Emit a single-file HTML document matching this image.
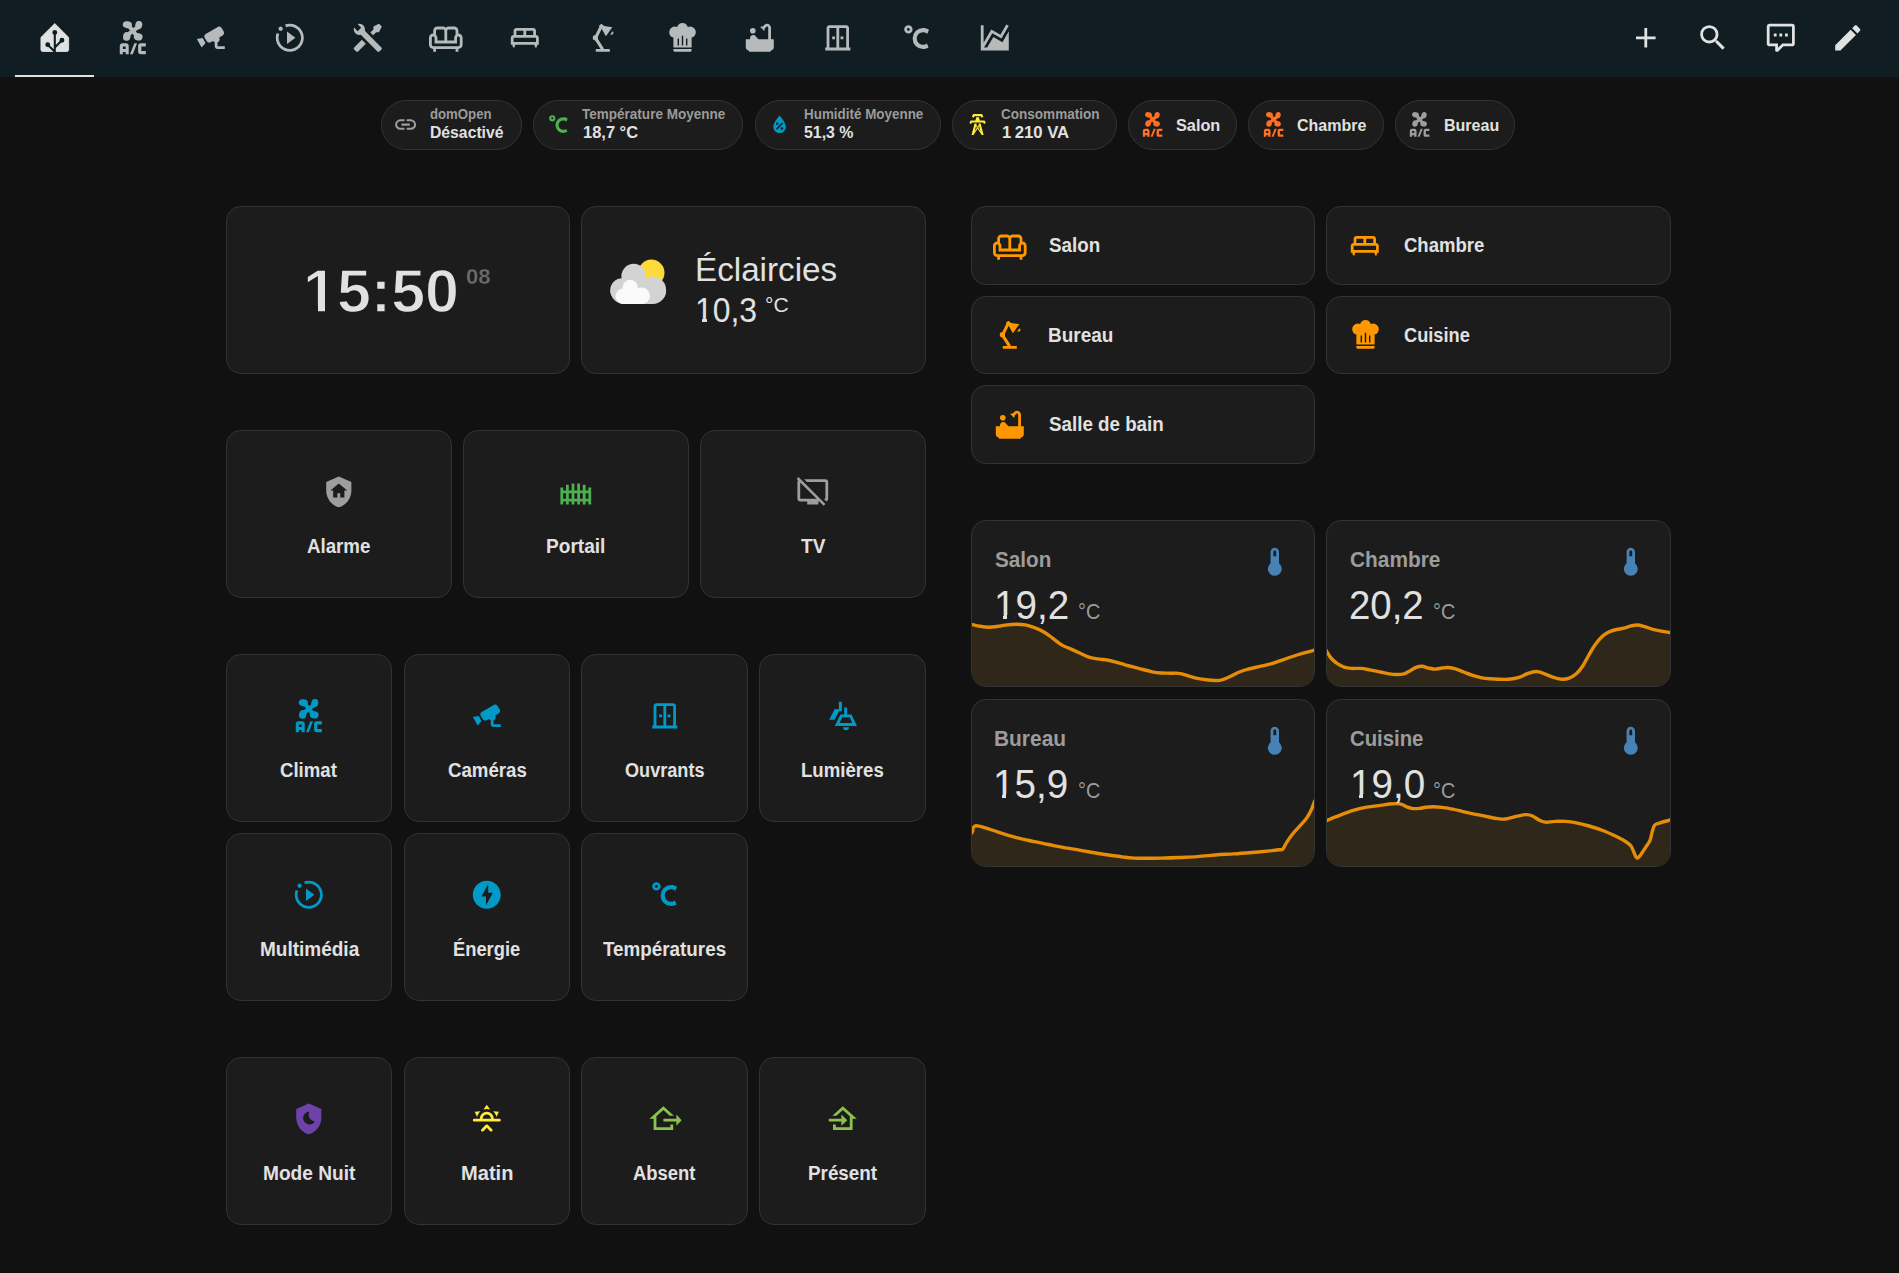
<!DOCTYPE html>
<html lang="fr"><head><meta charset="utf-8"><title>Home Assistant</title><style>
html,body{margin:0;padding:0;background:#111111;}
body{width:1899px;height:1273px;position:relative;overflow:hidden;font-family:"Liberation Sans",sans-serif;}
.hdr{position:absolute;left:0;top:0;width:1899px;height:77px;background:#101e24;}
.tabline{position:absolute;left:15px;top:75px;width:79px;height:2px;background:#e1e1e1;}
.ic{position:absolute;display:block;overflow:visible;}
.card{position:absolute;box-sizing:border-box;background:#1c1c1c;border:1px solid #333333;overflow:hidden;}
.mk{position:absolute;background:#1c1c1c;}
.t{position:absolute;white-space:pre;line-height:1;transform-origin:0 0;display:block;}
</style></head><body>
<div class="hdr"></div>
<div class="tabline"></div>
<svg class="ic" style="left:38.40px;top:21.00px;width:33.60px;height:33.60px;color:#e1e1e1" viewBox="0 0 24 24" fill="currentColor"><path d="M12 1.85L21.9 11.7V20.5A1.3 1.3 0 0 1 20.6 21.8H3.4A1.3 1.3 0 0 1 2.1 20.5V11.7Z" stroke="currentColor" stroke-width="0.6" stroke-linejoin="round"/><g stroke="#101e24" stroke-width="1.5" fill="#101e24"><path d="M12 22.6V8.2M12 19L17.1 13.8M12 22L6.95 16.9" fill="none"/><circle cx="12" cy="8.2" r="1.0"/><circle cx="17.1" cy="13.8" r="1.0"/><circle cx="6.95" cy="16.9" r="1.0"/></g></svg>
<svg class="ic" style="left:115.80px;top:21.00px;width:33.60px;height:33.60px;color:#e1e1e1;opacity:.8" viewBox="0 0 24 24" fill="currentColor"><g>
<ellipse cx="8.1" cy="2.65" rx="3.3" ry="2.5" transform="rotate(8 8.1 2.65)"/><ellipse cx="16.25" cy="2.95" rx="2.5" ry="2.95" transform="rotate(12 16.25 2.95)"/>
<ellipse cx="15.85" cy="11.3" rx="3.15" ry="2.6" transform="rotate(8 15.85 11.3)"/><ellipse cx="7.7" cy="11.05" rx="2.65" ry="3.1" transform="rotate(12 7.7 11.05)"/>
<path d="M9.3 3.6L14.8 10.5M15.6 4.4L8.5 9.7" stroke="currentColor" stroke-width="3" stroke-linecap="round" fill="none"/>
<path d="M2.7 23.7V18A2.1 2.1 0 0 1 4.8 15.9H7A2.1 2.1 0 0 1 9.1 18V23.7H6.9V22.2H4.9V23.7ZM4.9 20H6.9V18.2H4.9Z"/>
<path d="M13.1 15.9H15L12 23.7H10Z"/>
<path d="M21.3 15.9V18.2H18.1V21.5H21.3V23.7H17.7A1.9 1.9 0 0 1 15.8 21.8V17.8A1.9 1.9 0 0 1 17.7 15.9Z"/>
</g></svg>
<svg class="ic" style="left:194.20px;top:21.00px;width:33.60px;height:33.60px;color:#e1e1e1;opacity:.8" viewBox="0 0 24 24" fill="currentColor"><path d="M18.15,3.94C17.77,3.91 17.37,4 17,4.2L8.35,9.2C7.39,9.76 7.07,11 7.62,11.94L9.12,14.53C9.67,15.5 10.89,15.82 11.85,15.27L13.65,14.23C13.92,14.69 14.32,15.06 14.81,15.27V18.04C14.81,19.13 15.7,20 16.81,20H22V18.04H16.81V15.27C17.72,14.87 18.31,13.97 18.31,13C18.31,12.54 18.19,12.11 17.97,11.73L20.5,10.27C21.47,9.71 21.8,8.5 21.24,7.53L19.74,4.94C19.4,4.34 18.79,4 18.15,3.94M6.22,12.17L2,12.87L2.75,14.17L4.75,17.63L5.5,18.93L8.22,15.63L6.22,12.17Z"/></svg>
<svg class="ic" style="left:272.60px;top:21.00px;width:33.60px;height:33.60px;color:#e1e1e1;opacity:.8" viewBox="0 0 24 24" fill="currentColor"><path d="M10 16.5L16 12L10 7.5M22 12C22 6.46 17.54 2 12 2C10.83 2 9.7 2.19 8.62 2.56L9.32 4.5C10.17 4.16 11.06 3.97 12 3.97C16.41 3.97 20.03 7.59 20.03 12C20.03 16.41 16.41 20.03 12 20.03C7.59 20.03 3.97 16.41 3.97 12C3.97 11.06 4.16 10.12 4.5 9.28L2.56 8.62C2.19 9.7 2 10.83 2 12C2 17.54 6.46 22 12 22C17.54 22 22 17.54 22 12M5.47 3.97C6.32 3.97 7 4.68 7 5.47C7 6.32 6.32 7 5.47 7C4.68 7 3.97 6.32 3.97 5.47C3.97 4.68 4.68 3.97 5.47 3.97Z"/></svg>
<svg class="ic" style="left:351.00px;top:21.00px;width:33.60px;height:33.60px;color:#e1e1e1;opacity:.8" viewBox="0 0 24 24" fill="currentColor"><path d="M21.71 20.29L20.29 21.71A1 1 0 0 1 18.88 21.71L7 9.85A3.81 3.81 0 0 1 6 10A4 4 0 0 1 2.22 4.7L4.76 7.24L5.29 6.71L6.71 5.29L7.24 4.76L4.7 2.22A4 4 0 0 1 10 6A3.81 3.81 0 0 1 9.85 7L21.71 18.88A1 1 0 0 1 21.71 20.29M2.29 18.88A1 1 0 0 0 2.29 20.29L3.71 21.71A1 1 0 0 0 5.12 21.71L10.59 16.25L7.76 13.42M20 2L16 4V6L13.83 8.17L15.83 10.17L18 8H20L22 4Z"/></svg>
<svg class="ic" style="left:429.40px;top:21.00px;width:33.60px;height:33.60px;color:#e1e1e1;opacity:.8" viewBox="0 0 24 24" fill="currentColor"><path d="M21 9V7C21 5.35 19.65 4 18 4H14C13.23 4 12.53 4.3 12 4.78C11.47 4.3 10.77 4 10 4H6C4.35 4 3 5.35 3 7V9C1.35 9 0 10.35 0 12V17C0 18.65 1.35 20 3 20V22H5V20H19V22H21V20C22.65 20 24 18.65 24 17V12C24 10.35 22.65 9 21 9M14 6H18C18.55 6 19 6.45 19 7V9.78C18.39 10.33 18 11.12 18 12V14H13V7C13 6.45 13.45 6 14 6M5 7C5 6.45 5.45 6 6 6H10C10.55 6 11 6.45 11 7V14H6V12C6 11.12 5.61 10.33 5 9.78V7M22 17C22 17.55 21.55 18 21 18H3C2.45 18 2 17.55 2 17V12C2 11.45 2.45 11 3 11S4 11.45 4 12V16H20V12C20 11.45 20.45 11 21 11S22 11.45 22 12V17Z"/></svg>
<svg class="ic" style="left:507.80px;top:21.00px;width:33.60px;height:33.60px;color:#e1e1e1;opacity:.8" viewBox="0 0 24 24" fill="currentColor"><path d="M2 12V17H3L3.6 19H4.6L5.2 17H18.8L19.4 19H20.4L21 17H22V12C22 10.9 21.1 10 20 10V7C20 5.9 19.1 5 18 5H6C4.9 5 4 5.9 4 7V10C2.9 10 2 10.9 2 12M13 7H18V10H13V7M6 7H11V10H6V7M4 12H20V15H4V12Z"/></svg>
<svg class="ic" style="left:586.20px;top:21.00px;width:33.60px;height:33.60px;color:#e1e1e1;opacity:.8" viewBox="0 0 24 24" fill="currentColor"><g><path d="M11.9 20.3L6.8 12.2L10.6 4.4" stroke="currentColor" stroke-width="2.2" stroke-linejoin="round" fill="none"/>
<circle cx="6.7" cy="11.9" r="1.85"/>
<path d="M7 20H17V22H7ZM9.1 3.6L10.95 2L13 3.5L18.8 4.4L14.2 10.9L11.1 5.4ZM19.13 7.4L17.27 9.46C17.89 9.97 18.8 9.88 19.31 9.27C19.76 8.72 19.68 7.91 19.13 7.4Z"/></g></svg>
<svg class="ic" style="left:664.60px;top:21.00px;width:33.60px;height:33.60px;color:#e1e1e1;opacity:.8" viewBox="0 0 24 24" fill="currentColor"><path d="M12.5,1.5C10.73,1.5 9.17,2.67 8.67,4.37C8.14,4.13 7.58,4 7,4A4,4 0 0,0 3,8C3,9.82 4.24,11.41 6,11.87V19H19V11.87C20.76,11.41 22,9.82 22,8A4,4 0 0,0 18,4C17.42,4 16.86,4.13 16.33,4.37C15.83,2.67 14.27,1.5 12.5,1.5M12,10.5H13V17.5H12V10.5M9,12.5H10V17.5H9V12.5M15,12.5H16V17.5H15V12.5M6,20V21A1,1 0 0,0 7,22H18A1,1 0 0,0 19,21V20H6Z"/></svg>
<svg class="ic" style="left:743.00px;top:21.00px;width:33.60px;height:33.60px;color:#e1e1e1;opacity:.8" viewBox="0 0 24 24" fill="currentColor"><path d="M5 7A2 2 0 1 0 9 7A2 2 0 1 0 5 7M20 13V4.83C20 3.27 18.73 2 17.17 2C16.42 2 15.7 2.3 15.17 2.83L13.92 4.08C13.76 4.03 13.59 4 13.41 4C13.01 4 12.64 4.12 12.33 4.32L15.09 7.08C15.29 6.77 15.41 6.4 15.41 6C15.41 5.82 15.38 5.66 15.34 5.49L16.59 4.24C16.74 4.09 16.95 4 17.17 4C17.63 4 18 4.37 18 4.83V13H11.15C10.85 12.79 10.58 12.55 10.33 12.28L8.93 10.73C8.74 10.52 8.5 10.35 8.24 10.23C7.93 10.08 7.59 10 7.24 10C6 10.01 5 11.01 5 12.25V13H2V19C2 20.1 2.9 21 4 21C4 21.55 4.45 22 5 22H19C19.55 22 20 21.55 20 21C21.1 21 22 20.1 22 19V13H20Z"/></svg>
<svg class="ic" style="left:821.40px;top:21.00px;width:33.60px;height:33.60px;color:#e1e1e1;opacity:.8" viewBox="0 0 24 24" fill="currentColor"><path d="M10 13H8V11H10V13M16 11H14V13H16V11M21 19V21H3V19H4V5C4 3.9 4.9 3 6 3H18C19.1 3 20 3.9 20 5V19H21M11 5H6V19H11V5M18 5H13V19H18V5Z"/></svg>
<svg class="ic" style="left:899.80px;top:21.00px;width:33.60px;height:33.60px;color:#e1e1e1;opacity:.8" viewBox="0 0 24 24" fill="currentColor"><path d="M16.5,5C18.05,5 19.5,5.47 20.69,6.28L19.53,9.17C18.73,8.44 17.67,8 16.5,8C14,8 12,10 12,12.5C12,15 14,17 16.5,17C17.53,17 18.47,16.66 19.23,16.08L20.37,18.93C19.24,19.61 17.92,20 16.5,20A7.5,7.5 0 0,1 9,12.5A7.5,7.5 0 0,1 16.5,5M6,3A3,3 0 0,1 9,6A3,3 0 0,1 6,9A3,3 0 0,1 3,6A3,3 0 0,1 6,3M6,5A1,1 0 0,0 5,6A1,1 0 0,0 6,7A1,1 0 0,0 7,6A1,1 0 0,0 6,5Z"/></svg>
<svg class="ic" style="left:978.20px;top:21.00px;width:33.60px;height:33.60px;color:#e1e1e1;opacity:.8" viewBox="0 0 24 24" fill="currentColor"><path d="M17.45,15.18L22,7.31V19L22,21H2V3H4V15.54L9.5,6L16,9.78L20.24,2.45L21.97,3.45L16.74,12.5L10.23,8.75L4.31,19H6.57L10.96,11.44L17.45,15.18Z"/></svg>
<svg class="ic" style="left:1628.90px;top:21.00px;width:33.60px;height:33.60px;color:#e1e1e1" viewBox="0 0 24 24" fill="currentColor"><path d="M19,13H13V19H11V13H5V11H11V5H13V11H19V13Z"/></svg>
<svg class="ic" style="left:1696.10px;top:21.00px;width:33.60px;height:33.60px;color:#e1e1e1" viewBox="0 0 24 24" fill="currentColor"><path d="M9.5,3A6.5,6.5 0 0,1 16,9.5C16,11.11 15.41,12.59 14.44,13.73L14.71,14H15.5L20.5,19L19,20.5L14,15.5V14.71L13.73,14.44C12.59,15.41 11.11,16 9.5,16A6.5,6.5 0 0,1 3,9.5A6.5,6.5 0 0,1 9.5,3M9.5,5C7,5 5,7 5,9.5C5,12 7,14 9.5,14C12,14 14,12 14,9.5C14,7 12,5 9.5,5Z"/></svg>
<svg class="ic" style="left:1764.40px;top:21.00px;width:33.60px;height:33.60px;color:#e1e1e1" viewBox="0 0 24 24" fill="currentColor"><path d="M9,22A1,1 0 0,1 8,21V18H4A2,2 0 0,1 2,16V4C2,2.89 2.9,2 4,2H20A2,2 0 0,1 22,4V16A2,2 0 0,1 20,18H13.9L10.2,21.71C10,21.9 9.75,22 9.5,22V22H9M10,16V19.08L13.08,16H20V4H4V16H10M17,11H15V9H17V11M13,11H11V9H13V11M9,11H7V9H9V11Z"/></svg>
<svg class="ic" style="left:1830.50px;top:21.00px;width:33.60px;height:33.60px;color:#e1e1e1" viewBox="0 0 24 24" fill="currentColor"><path d="M20.71,7.04C21.1,6.65 21.1,6 20.71,5.63L18.37,3.29C18,2.9 17.35,2.9 16.96,3.29L15.12,5.12L18.87,8.87M3,17.25V21H6.75L17.81,9.93L14.06,6.18L3,17.25Z"/></svg>
<div class="card chip" style="left:381px;top:100px;width:141px;height:50px;border-radius:25px"></div>
<svg class="ic" style="left:393.20px;top:111.90px;width:25.20px;height:25.20px;color:#9e9e9e" viewBox="0 0 24 24" fill="currentColor"><path d="M3.9,12C3.9,10.29 5.29,8.9 7,8.9H11V7H7A5,5 0 0,0 2,12A5,5 0 0,0 7,17H11V15.1H7C5.29,15.1 3.9,13.71 3.9,12M8,13H16V11H8V13M17,7H13V8.9H17C18.71,8.9 20.1,10.29 20.1,12C20.1,13.71 18.71,15.1 17,15.1H13V17H17A5,5 0 0,0 22,12A5,5 0 0,0 17,7Z"/></svg>
<div class="card chip" style="left:533px;top:100px;width:210px;height:50px;border-radius:25px"></div>
<svg class="ic" style="left:546.20px;top:111.90px;width:25.20px;height:25.20px;color:#4caf50" viewBox="0 0 24 24" fill="currentColor"><path d="M16.5,5C18.05,5 19.5,5.47 20.69,6.28L19.53,9.17C18.73,8.44 17.67,8 16.5,8C14,8 12,10 12,12.5C12,15 14,17 16.5,17C17.53,17 18.47,16.66 19.23,16.08L20.37,18.93C19.24,19.61 17.92,20 16.5,20A7.5,7.5 0 0,1 9,12.5A7.5,7.5 0 0,1 16.5,5M6,3A3,3 0 0,1 9,6A3,3 0 0,1 6,9A3,3 0 0,1 3,6A3,3 0 0,1 6,3M6,5A1,1 0 0,0 5,6A1,1 0 0,0 6,7A1,1 0 0,0 7,6A1,1 0 0,0 6,5Z"/></svg>
<div class="card chip" style="left:755px;top:100px;width:186px;height:50px;border-radius:25px"></div>
<svg class="ic" style="left:767.00px;top:111.90px;width:25.20px;height:25.20px;color:#009ac7" viewBox="0 0 24 24" fill="currentColor"><path d="M12,3.25C12,3.25 6,10 6,14C6,17.32 8.69,20 12,20A6,6 0 0,0 18,14C18,10 12,3.25 12,3.25M14.47,9.97L15.53,11.03L9.53,17.03L8.47,15.97M9.75,10A1.25,1.25 0 0,1 11,11.25A1.25,1.25 0 0,1 9.75,12.5A1.25,1.25 0 0,1 8.5,11.25A1.25,1.25 0 0,1 9.75,10M14.25,14.5A1.25,1.25 0 0,1 15.5,15.75A1.25,1.25 0 0,1 14.25,17A1.25,1.25 0 0,1 13,15.75A1.25,1.25 0 0,1 14.25,14.5Z"/></svg>
<div class="card chip" style="left:952px;top:100px;width:165px;height:50px;border-radius:25px"></div>
<svg class="ic" style="left:965.10px;top:111.90px;width:25.20px;height:25.20px;color:#ffeb3b" viewBox="0 0 24 24" fill="currentColor"><path d="M8.28,5.45L6.5,4.55L7.76,2H16.23L17.5,4.55L15.72,5.44L15,4H9L8.28,5.45M18.62,8H14.09L13.3,5H10.7L9.91,8H5.38L4.1,10.55L5.89,11.44L6.62,10H17.38L18.1,11.45L19.89,10.56L18.62,8M17.77,22H15.7L15.46,21.1L12,15.9L8.53,21.1L8.3,22H6.23L9.12,11H11.19L10.83,12.35L12,14.1L13.16,12.35L12.81,11H14.88L17.77,22M11.4,15L10.5,13.65L9.32,18.13L11.4,15M14.68,18.12L13.5,13.64L12.6,15L14.68,18.12Z"/></svg>
<div class="card chip" style="left:1128px;top:100px;width:109px;height:50px;border-radius:25px"></div>
<svg class="ic" style="left:1140.20px;top:111.90px;width:25.20px;height:25.20px;color:#ff6f22" viewBox="0 0 24 24" fill="currentColor"><g>
<ellipse cx="8.1" cy="2.65" rx="3.3" ry="2.5" transform="rotate(8 8.1 2.65)"/><ellipse cx="16.25" cy="2.95" rx="2.5" ry="2.95" transform="rotate(12 16.25 2.95)"/>
<ellipse cx="15.85" cy="11.3" rx="3.15" ry="2.6" transform="rotate(8 15.85 11.3)"/><ellipse cx="7.7" cy="11.05" rx="2.65" ry="3.1" transform="rotate(12 7.7 11.05)"/>
<path d="M9.3 3.6L14.8 10.5M15.6 4.4L8.5 9.7" stroke="currentColor" stroke-width="3" stroke-linecap="round" fill="none"/>
<path d="M2.7 23.7V18A2.1 2.1 0 0 1 4.8 15.9H7A2.1 2.1 0 0 1 9.1 18V23.7H6.9V22.2H4.9V23.7ZM4.9 20H6.9V18.2H4.9Z"/>
<path d="M13.1 15.9H15L12 23.7H10Z"/>
<path d="M21.3 15.9V18.2H18.1V21.5H21.3V23.7H17.7A1.9 1.9 0 0 1 15.8 21.8V17.8A1.9 1.9 0 0 1 17.7 15.9Z"/>
</g></svg>
<div class="card chip" style="left:1248px;top:100px;width:136px;height:50px;border-radius:25px"></div>
<svg class="ic" style="left:1261.10px;top:111.90px;width:25.20px;height:25.20px;color:#ff6f22" viewBox="0 0 24 24" fill="currentColor"><g>
<ellipse cx="8.1" cy="2.65" rx="3.3" ry="2.5" transform="rotate(8 8.1 2.65)"/><ellipse cx="16.25" cy="2.95" rx="2.5" ry="2.95" transform="rotate(12 16.25 2.95)"/>
<ellipse cx="15.85" cy="11.3" rx="3.15" ry="2.6" transform="rotate(8 15.85 11.3)"/><ellipse cx="7.7" cy="11.05" rx="2.65" ry="3.1" transform="rotate(12 7.7 11.05)"/>
<path d="M9.3 3.6L14.8 10.5M15.6 4.4L8.5 9.7" stroke="currentColor" stroke-width="3" stroke-linecap="round" fill="none"/>
<path d="M2.7 23.7V18A2.1 2.1 0 0 1 4.8 15.9H7A2.1 2.1 0 0 1 9.1 18V23.7H6.9V22.2H4.9V23.7ZM4.9 20H6.9V18.2H4.9Z"/>
<path d="M13.1 15.9H15L12 23.7H10Z"/>
<path d="M21.3 15.9V18.2H18.1V21.5H21.3V23.7H17.7A1.9 1.9 0 0 1 15.8 21.8V17.8A1.9 1.9 0 0 1 17.7 15.9Z"/>
</g></svg>
<div class="card chip" style="left:1395px;top:100px;width:120px;height:50px;border-radius:25px"></div>
<svg class="ic" style="left:1407.20px;top:111.90px;width:25.20px;height:25.20px;color:#9e9e9e" viewBox="0 0 24 24" fill="currentColor"><g>
<ellipse cx="8.1" cy="2.65" rx="3.3" ry="2.5" transform="rotate(8 8.1 2.65)"/><ellipse cx="16.25" cy="2.95" rx="2.5" ry="2.95" transform="rotate(12 16.25 2.95)"/>
<ellipse cx="15.85" cy="11.3" rx="3.15" ry="2.6" transform="rotate(8 15.85 11.3)"/><ellipse cx="7.7" cy="11.05" rx="2.65" ry="3.1" transform="rotate(12 7.7 11.05)"/>
<path d="M9.3 3.6L14.8 10.5M15.6 4.4L8.5 9.7" stroke="currentColor" stroke-width="3" stroke-linecap="round" fill="none"/>
<path d="M2.7 23.7V18A2.1 2.1 0 0 1 4.8 15.9H7A2.1 2.1 0 0 1 9.1 18V23.7H6.9V22.2H4.9V23.7ZM4.9 20H6.9V18.2H4.9Z"/>
<path d="M13.1 15.9H15L12 23.7H10Z"/>
<path d="M21.3 15.9V18.2H18.1V21.5H21.3V23.7H17.7A1.9 1.9 0 0 1 15.8 21.8V17.8A1.9 1.9 0 0 1 17.7 15.9Z"/>
</g></svg>
<div class="card" style="left:226px;top:206px;width:344px;height:168px;border-radius:14.8px"></div>
<div class="card" style="left:581px;top:206px;width:345px;height:168px;border-radius:14.8px"></div>
<svg class="ic" style="left:605px;top:254px;width:70px;height:56px" viewBox="605 254 70 56">
<circle cx="651.4" cy="272.7" r="13.1" fill="#fdd93c"/>
<g fill="#d3d3d3"><circle cx="633.7" cy="276.1" r="12.3"/><circle cx="652.8" cy="289.9" r="13.3"/><circle cx="622.2" cy="290.2" r="11.9"/><path d="M610.3 290A14 14 0 0 0 624.3 304H652.6A13.5 13.5 0 0 0 666.1 290.5L640 280Z"/></g>
<g fill="#fafafa"><circle cx="630.2" cy="287.3" r="7.6"/><circle cx="623.2" cy="296" r="7.6"/><circle cx="641.7" cy="295.6" r="8.1"/><path d="M615.6 296A8 8 0 0 0 623.6 304H641.8A8 8 0 0 0 649.8 296L632 290Z"/></g>
</svg>
<div class="card" style="left:226px;top:430px;width:226px;height:168px;border-radius:14.8px"></div>
<svg class="ic" style="left:322.20px;top:474.90px;width:33.60px;height:33.60px;color:#9e9e9e" viewBox="0 0 24 24" fill="currentColor"><path d="M11,13H13V16H16V11H18L12,6L6,11H8V16H11V13M12,1L21,5V11C21,16.55 17.16,21.74 12,23C6.84,21.74 3,16.55 3,11V5L12,1Z"/></svg>
<div class="card" style="left:463px;top:430px;width:226px;height:168px;border-radius:14.8px"></div>
<svg class="ic" style="left:559.20px;top:474.90px;width:33.60px;height:33.60px;color:#4caf50" viewBox="0 0 24 24" fill="currentColor"><path d="M9 6V11H7V7H5V11H3V9H1V21H3V19H5V21H7V19H9V21H11V19H13V21H15V19H17V21H19V19H21V21H23V9H21V11H19V7H17V11H15V6H13V11H11V6H9M3 13H5V17H3V13M7 13H9V17H7V13M11 13H13V17H11V13M15 13H17V17H15V13M19 13H21V17H19V13Z"/></svg>
<div class="card" style="left:700px;top:430px;width:226px;height:168px;border-radius:14.8px"></div>
<svg class="ic" style="left:796.20px;top:474.90px;width:33.60px;height:33.60px;color:#9e9e9e" viewBox="0 0 24 24" fill="currentColor"><path d="M0.5,2.77L1.78,1.5L21,20.72L19.73,22L16.73,19H16V21H8V19H3C1.89,19 1,18.1 1,17V5C1,4.5 1.17,4.07 1.46,3.73L0.5,2.77M21,17V5H7.82L5.82,3H21A2,2 0 0,1 23,5V17C23,17.85 22.45,18.59 21.7,18.87L19.82,17H21M3,17H14.73L3,5.27V17Z"/></svg>
<div class="card" style="left:226px;top:654px;width:166px;height:168px;border-radius:14.8px"></div>
<svg class="ic" style="left:292.20px;top:698.90px;width:33.60px;height:33.60px;color:#009ac7" viewBox="0 0 24 24" fill="currentColor"><g>
<ellipse cx="8.1" cy="2.65" rx="3.3" ry="2.5" transform="rotate(8 8.1 2.65)"/><ellipse cx="16.25" cy="2.95" rx="2.5" ry="2.95" transform="rotate(12 16.25 2.95)"/>
<ellipse cx="15.85" cy="11.3" rx="3.15" ry="2.6" transform="rotate(8 15.85 11.3)"/><ellipse cx="7.7" cy="11.05" rx="2.65" ry="3.1" transform="rotate(12 7.7 11.05)"/>
<path d="M9.3 3.6L14.8 10.5M15.6 4.4L8.5 9.7" stroke="currentColor" stroke-width="3" stroke-linecap="round" fill="none"/>
<path d="M2.7 23.7V18A2.1 2.1 0 0 1 4.8 15.9H7A2.1 2.1 0 0 1 9.1 18V23.7H6.9V22.2H4.9V23.7ZM4.9 20H6.9V18.2H4.9Z"/>
<path d="M13.1 15.9H15L12 23.7H10Z"/>
<path d="M21.3 15.9V18.2H18.1V21.5H21.3V23.7H17.7A1.9 1.9 0 0 1 15.8 21.8V17.8A1.9 1.9 0 0 1 17.7 15.9Z"/>
</g></svg>
<div class="card" style="left:404px;top:654px;width:166px;height:168px;border-radius:14.8px"></div>
<svg class="ic" style="left:470.20px;top:698.90px;width:33.60px;height:33.60px;color:#009ac7" viewBox="0 0 24 24" fill="currentColor"><path d="M18.15,3.94C17.77,3.91 17.37,4 17,4.2L8.35,9.2C7.39,9.76 7.07,11 7.62,11.94L9.12,14.53C9.67,15.5 10.89,15.82 11.85,15.27L13.65,14.23C13.92,14.69 14.32,15.06 14.81,15.27V18.04C14.81,19.13 15.7,20 16.81,20H22V18.04H16.81V15.27C17.72,14.87 18.31,13.97 18.31,13C18.31,12.54 18.19,12.11 17.97,11.73L20.5,10.27C21.47,9.71 21.8,8.5 21.24,7.53L19.74,4.94C19.4,4.34 18.79,4 18.15,3.94M6.22,12.17L2,12.87L2.75,14.17L4.75,17.63L5.5,18.93L8.22,15.63L6.22,12.17Z"/></svg>
<div class="card" style="left:581px;top:654px;width:167px;height:168px;border-radius:14.8px"></div>
<svg class="ic" style="left:647.70px;top:698.90px;width:33.60px;height:33.60px;color:#009ac7" viewBox="0 0 24 24" fill="currentColor"><path d="M10 13H8V11H10V13M16 11H14V13H16V11M21 19V21H3V19H4V5C4 3.9 4.9 3 6 3H18C19.1 3 20 3.9 20 5V19H21M11 5H6V19H11V5M18 5H13V19H18V5Z"/></svg>
<div class="card" style="left:759px;top:654px;width:167px;height:168px;border-radius:14.8px"></div>
<svg class="ic" style="left:825.70px;top:698.90px;width:33.60px;height:33.60px;color:#009ac7" viewBox="0 0 24 24" fill="currentColor"><path d="M9.2 2H11.3V8.8H9.35L6.1 14.8H2.3L6.1 7.4H9.2ZM13 6H15.1V11H18.2L22.1 19.2H6.3L10.3 11H13ZM11.6 13L9.7 17.1H18.7L17 13ZM12.2 20.2H16.4A2.1 2.1 0 0 1 12.2 20.2Z"/></svg>
<div class="card" style="left:226px;top:833px;width:166px;height:168px;border-radius:14.8px"></div>
<svg class="ic" style="left:292.20px;top:877.90px;width:33.60px;height:33.60px;color:#009ac7" viewBox="0 0 24 24" fill="currentColor"><path d="M10 16.5L16 12L10 7.5M22 12C22 6.46 17.54 2 12 2C10.83 2 9.7 2.19 8.62 2.56L9.32 4.5C10.17 4.16 11.06 3.97 12 3.97C16.41 3.97 20.03 7.59 20.03 12C20.03 16.41 16.41 20.03 12 20.03C7.59 20.03 3.97 16.41 3.97 12C3.97 11.06 4.16 10.12 4.5 9.28L2.56 8.62C2.19 9.7 2 10.83 2 12C2 17.54 6.46 22 12 22C17.54 22 22 17.54 22 12M5.47 3.97C6.32 3.97 7 4.68 7 5.47C7 6.32 6.32 7 5.47 7C4.68 7 3.97 6.32 3.97 5.47C3.97 4.68 4.68 3.97 5.47 3.97Z"/></svg>
<div class="card" style="left:404px;top:833px;width:166px;height:168px;border-radius:14.8px"></div>
<svg class="ic" style="left:470.20px;top:877.90px;width:33.60px;height:33.60px;color:#009ac7" viewBox="0 0 24 24" fill="currentColor"><path d="M12 2C6.5 2 2 6.5 2 12S6.5 22 12 22 22 17.5 22 12 17.5 2 12 2M13 4.3V10.5H16.3L11.4 19.7V13.2H8.2L13 4.3Z"/></svg>
<div class="card" style="left:581px;top:833px;width:167px;height:168px;border-radius:14.8px"></div>
<svg class="ic" style="left:647.70px;top:877.90px;width:33.60px;height:33.60px;color:#009ac7" viewBox="0 0 24 24" fill="currentColor"><path d="M16.5,5C18.05,5 19.5,5.47 20.69,6.28L19.53,9.17C18.73,8.44 17.67,8 16.5,8C14,8 12,10 12,12.5C12,15 14,17 16.5,17C17.53,17 18.47,16.66 19.23,16.08L20.37,18.93C19.24,19.61 17.92,20 16.5,20A7.5,7.5 0 0,1 9,12.5A7.5,7.5 0 0,1 16.5,5M6,3A3,3 0 0,1 9,6A3,3 0 0,1 6,9A3,3 0 0,1 3,6A3,3 0 0,1 6,3M6,5A1,1 0 0,0 5,6A1,1 0 0,0 6,7A1,1 0 0,0 7,6A1,1 0 0,0 6,5Z"/></svg>
<div class="card" style="left:226px;top:1057px;width:166px;height:168px;border-radius:14.8px"></div>
<svg class="ic" style="left:292.20px;top:1101.90px;width:33.60px;height:33.60px;color:#6e41ab" viewBox="0 0 24 24" fill="currentColor"><path d="M12 1L3 5V11C3 16.55 6.84 21.74 12 23C17.16 21.74 21 16.55 21 11V5L12 1M15.97 14.41C14.13 16.58 10.76 16.5 9 14.34C6.82 11.62 8.36 7.62 11.7 7C12.04 6.95 12.33 7.28 12.21 7.61C11.75 8.84 11.82 10.25 12.53 11.47C13.24 12.69 14.42 13.46 15.71 13.67C16.05 13.72 16.2 14.14 15.97 14.41Z"/></svg>
<div class="card" style="left:404px;top:1057px;width:166px;height:168px;border-radius:14.8px"></div>
<svg class="ic" style="left:470.20px;top:1101.90px;width:33.60px;height:33.60px;color:#ffeb3b" viewBox="0 0 24 24" fill="currentColor"><path d="M3,12H7A5,5 0 0,1 12,7A5,5 0 0,1 17,12H21A1,1 0 0,1 22,13A1,1 0 0,1 21,14H3A1,1 0 0,1 2,13A1,1 0 0,1 3,12M15,12A3,3 0 0,0 12,9A3,3 0 0,0 9,12H15M12,2L14.39,5.42C13.65,5.15 12.84,5 12,5C11.16,5 10.35,5.15 9.61,5.42L12,2M3.34,7L7.5,6.65C6.9,7.16 6.36,7.78 5.94,8.5C5.5,9.24 5.25,10 5.11,10.79L3.34,7M20.65,7L18.88,10.79C18.74,10 18.47,9.23 18.05,8.5C17.63,7.78 17.1,7.15 16.5,6.64L20.65,7M12.71,16.3L15.82,19.41C16.21,19.8 16.21,20.43 15.82,20.82C15.43,21.21 14.8,21.21 14.41,20.82L12,18.41L9.59,20.82C9.2,21.21 8.57,21.21 8.18,20.82C7.79,20.43 7.79,19.8 8.18,19.41L11.29,16.3C11.5,16.1 11.74,16 12,16C12.26,16 12.5,16.1 12.71,16.3Z"/></svg>
<div class="card" style="left:581px;top:1057px;width:167px;height:168px;border-radius:14.8px"></div>
<svg class="ic" style="left:647.70px;top:1101.90px;width:33.60px;height:33.60px;color:#8bc34a" viewBox="0 0 24 24" fill="currentColor"><path d="M11 3L1 12H4V20H18V16H16V18H6V10.2L11 5.7L15.5 9.75H18.5ZM24 13L20.3 9V12H11V14H20.3V17Z"/></svg>
<div class="card" style="left:759px;top:1057px;width:167px;height:168px;border-radius:14.8px"></div>
<svg class="ic" style="left:825.70px;top:1101.90px;width:33.60px;height:33.60px;color:#8bc34a" viewBox="0 0 24 24" fill="currentColor"><path d="M12 3L22 12H19V20H5V16H7V18H17V10.2L12 5.7L7.5 9.75H4.5ZM15.2 13L11 9V12H2V14H11V17Z"/></svg>
<div class="card" style="left:971px;top:206px;width:344px;height:79px;border-radius:14.8px"></div>
<svg class="ic" style="left:993.00px;top:228.90px;width:33.60px;height:33.60px;color:#ff9800" viewBox="0 0 24 24" fill="currentColor"><path d="M21 9V7C21 5.35 19.65 4 18 4H14C13.23 4 12.53 4.3 12 4.78C11.47 4.3 10.77 4 10 4H6C4.35 4 3 5.35 3 7V9C1.35 9 0 10.35 0 12V17C0 18.65 1.35 20 3 20V22H5V20H19V22H21V20C22.65 20 24 18.65 24 17V12C24 10.35 22.65 9 21 9M14 6H18C18.55 6 19 6.45 19 7V9.78C18.39 10.33 18 11.12 18 12V14H13V7C13 6.45 13.45 6 14 6M5 7C5 6.45 5.45 6 6 6H10C10.55 6 11 6.45 11 7V14H6V12C6 11.12 5.61 10.33 5 9.78V7M22 17C22 17.55 21.55 18 21 18H3C2.45 18 2 17.55 2 17V12C2 11.45 2.45 11 3 11S4 11.45 4 12V16H20V12C20 11.45 20.45 11 21 11S22 11.45 22 12V17Z"/></svg>
<div class="card" style="left:1326px;top:206px;width:345px;height:79px;border-radius:14.8px"></div>
<svg class="ic" style="left:1348.00px;top:228.90px;width:33.60px;height:33.60px;color:#ff9800" viewBox="0 0 24 24" fill="currentColor"><path d="M2 12V17H3L3.6 19H4.6L5.2 17H18.8L19.4 19H20.4L21 17H22V12C22 10.9 21.1 10 20 10V7C20 5.9 19.1 5 18 5H6C4.9 5 4 5.9 4 7V10C2.9 10 2 10.9 2 12M13 7H18V10H13V7M6 7H11V10H6V7M4 12H20V15H4V12Z"/></svg>
<div class="card" style="left:971px;top:296px;width:344px;height:78px;border-radius:14.8px"></div>
<svg class="ic" style="left:993.00px;top:318.40px;width:33.60px;height:33.60px;color:#ff9800" viewBox="0 0 24 24" fill="currentColor"><g><path d="M11.9 20.3L6.8 12.2L10.6 4.4" stroke="currentColor" stroke-width="2.2" stroke-linejoin="round" fill="none"/>
<circle cx="6.7" cy="11.9" r="1.85"/>
<path d="M7 20H17V22H7ZM9.1 3.6L10.95 2L13 3.5L18.8 4.4L14.2 10.9L11.1 5.4ZM19.13 7.4L17.27 9.46C17.89 9.97 18.8 9.88 19.31 9.27C19.76 8.72 19.68 7.91 19.13 7.4Z"/></g></svg>
<div class="card" style="left:1326px;top:296px;width:345px;height:78px;border-radius:14.8px"></div>
<svg class="ic" style="left:1348.00px;top:318.40px;width:33.60px;height:33.60px;color:#ff9800" viewBox="0 0 24 24" fill="currentColor"><path d="M12.5,1.5C10.73,1.5 9.17,2.67 8.67,4.37C8.14,4.13 7.58,4 7,4A4,4 0 0,0 3,8C3,9.82 4.24,11.41 6,11.87V19H19V11.87C20.76,11.41 22,9.82 22,8A4,4 0 0,0 18,4C17.42,4 16.86,4.13 16.33,4.37C15.83,2.67 14.27,1.5 12.5,1.5M12,10.5H13V17.5H12V10.5M9,12.5H10V17.5H9V12.5M15,12.5H16V17.5H15V12.5M6,20V21A1,1 0 0,0 7,22H18A1,1 0 0,0 19,21V20H6Z"/></svg>
<div class="card" style="left:971px;top:385px;width:344px;height:79px;border-radius:14.8px"></div>
<svg class="ic" style="left:993.00px;top:407.90px;width:33.60px;height:33.60px;color:#ff9800" viewBox="0 0 24 24" fill="currentColor"><path d="M5 7A2 2 0 1 0 9 7A2 2 0 1 0 5 7M20 13V4.83C20 3.27 18.73 2 17.17 2C16.42 2 15.7 2.3 15.17 2.83L13.92 4.08C13.76 4.03 13.59 4 13.41 4C13.01 4 12.64 4.12 12.33 4.32L15.09 7.08C15.29 6.77 15.41 6.4 15.41 6C15.41 5.82 15.38 5.66 15.34 5.49L16.59 4.24C16.74 4.09 16.95 4 17.17 4C17.63 4 18 4.37 18 4.83V13H11.15C10.85 12.79 10.58 12.55 10.33 12.28L8.93 10.73C8.74 10.52 8.5 10.35 8.24 10.23C7.93 10.08 7.59 10 7.24 10C6 10.01 5 11.01 5 12.25V13H2V19C2 20.1 2.9 21 4 21C4 21.55 4.45 22 5 22H19C19.55 22 20 21.55 20 21C21.1 21 22 20.1 22 19V13H20Z"/></svg>
<div class="card gcard" style="left:971px;top:520px;width:344px;height:167px;border-radius:14.8px"><svg width="344" height="167" viewBox="0 0 344 167" style="position:absolute;left:-1px;top:-1px"><path d="M0.0 104.3C1.5 104.6 6.1 105.8 9.1 106.3C12.1 106.8 15.1 107.2 18.1 107.2C21.1 107.2 24.2 106.7 27.2 106.3C30.2 105.9 33.2 105.2 36.2 104.9C39.2 104.6 42.3 104.3 45.3 104.3C48.3 104.3 51.3 104.3 54.3 104.9C57.3 105.5 60.4 106.6 63.4 107.7C66.4 108.8 69.5 110.0 72.5 111.7C75.5 113.4 78.5 115.9 81.5 118.1C84.5 120.3 87.6 123.1 90.6 124.9C93.6 126.7 96.6 127.5 99.6 128.9C102.6 130.2 105.7 131.6 108.7 133.0C111.7 134.4 114.8 136.1 117.8 137.1C120.8 138.1 123.8 138.4 126.8 138.9C129.8 139.4 132.9 139.5 135.9 140.0C138.9 140.5 141.9 141.3 144.9 142.1C147.9 142.9 151.0 143.9 154.0 144.8C157.0 145.6 160.0 146.4 163.0 147.2C166.0 148.0 169.0 148.7 172.0 149.5C175.0 150.3 178.1 151.2 181.1 151.8C184.1 152.4 187.1 152.8 190.1 153.0C193.1 153.2 196.2 153.1 199.2 153.2C202.2 153.3 205.2 152.9 208.2 153.4C211.2 153.8 214.3 155.1 217.3 155.9C220.3 156.7 223.3 157.8 226.3 158.4C229.3 159.0 232.4 159.4 235.4 159.7C238.4 160.1 242.1 160.4 244.5 160.5C246.9 160.6 247.7 160.8 249.9 160.2C252.2 159.6 255.1 158.3 258.0 157.0C260.9 155.7 264.1 153.8 267.1 152.5C270.1 151.2 272.4 150.3 276.2 149.3C280.0 148.2 286.0 147.1 289.8 146.2C293.6 145.3 295.8 144.9 298.8 144.1C301.8 143.3 304.9 142.2 307.9 141.2C310.9 140.2 313.9 139.0 316.9 138.0C319.9 137.0 323.0 136.0 326.0 135.0C329.0 134.0 332.0 133.1 335.0 132.3C338.0 131.5 342.5 130.4 344.0 130.0L344 167L0 167Z" fill="#30271b"/><path d="M0.0 104.3C1.5 104.6 6.1 105.8 9.1 106.3C12.1 106.8 15.1 107.2 18.1 107.2C21.1 107.2 24.2 106.7 27.2 106.3C30.2 105.9 33.2 105.2 36.2 104.9C39.2 104.6 42.3 104.3 45.3 104.3C48.3 104.3 51.3 104.3 54.3 104.9C57.3 105.5 60.4 106.6 63.4 107.7C66.4 108.8 69.5 110.0 72.5 111.7C75.5 113.4 78.5 115.9 81.5 118.1C84.5 120.3 87.6 123.1 90.6 124.9C93.6 126.7 96.6 127.5 99.6 128.9C102.6 130.2 105.7 131.6 108.7 133.0C111.7 134.4 114.8 136.1 117.8 137.1C120.8 138.1 123.8 138.4 126.8 138.9C129.8 139.4 132.9 139.5 135.9 140.0C138.9 140.5 141.9 141.3 144.9 142.1C147.9 142.9 151.0 143.9 154.0 144.8C157.0 145.6 160.0 146.4 163.0 147.2C166.0 148.0 169.0 148.7 172.0 149.5C175.0 150.3 178.1 151.2 181.1 151.8C184.1 152.4 187.1 152.8 190.1 153.0C193.1 153.2 196.2 153.1 199.2 153.2C202.2 153.3 205.2 152.9 208.2 153.4C211.2 153.8 214.3 155.1 217.3 155.9C220.3 156.7 223.3 157.8 226.3 158.4C229.3 159.0 232.4 159.4 235.4 159.7C238.4 160.1 242.1 160.4 244.5 160.5C246.9 160.6 247.7 160.8 249.9 160.2C252.2 159.6 255.1 158.3 258.0 157.0C260.9 155.7 264.1 153.8 267.1 152.5C270.1 151.2 272.4 150.3 276.2 149.3C280.0 148.2 286.0 147.1 289.8 146.2C293.6 145.3 295.8 144.9 298.8 144.1C301.8 143.3 304.9 142.2 307.9 141.2C310.9 140.2 313.9 139.0 316.9 138.0C319.9 137.0 323.0 136.0 326.0 135.0C329.0 134.0 332.0 133.1 335.0 132.3C338.0 131.5 342.5 130.4 344.0 130.0" fill="none" stroke="#e58d06" stroke-width="3.4" stroke-linejoin="round" stroke-linecap="butt"/></svg></div>
<svg class="ic" style="left:1257.90px;top:545.10px;width:33.60px;height:33.60px;color:#4682b4" viewBox="0 0 24 24" fill="currentColor"><path d="M15,13V5A3,3 0 0,0 9,5V13A5,5 0 1,0 15,13M12,4A1,1 0 0,1 13,5V8H11V5A1,1 0 0,1 12,4Z"/></svg>
<div class="card gcard" style="left:1326px;top:520px;width:345px;height:167px;border-radius:14.8px"><svg width="345" height="167" viewBox="0 0 345 167" style="position:absolute;left:-1px;top:-1px"><path d="M0.0 130.0C0.2 130.3 0.2 130.7 1.1 132.1C2.0 133.5 3.6 136.5 5.4 138.5C7.2 140.5 9.7 142.5 11.8 143.9C13.9 145.3 15.8 146.4 18.1 147.1C20.4 147.9 22.7 148.2 25.4 148.4C28.1 148.6 31.4 148.2 34.4 148.4C37.4 148.6 40.2 149.2 43.5 149.8C46.8 150.4 51.0 151.3 54.3 152.0C57.6 152.7 60.7 153.5 63.4 153.9C66.1 154.3 68.3 154.5 70.7 154.5C73.1 154.5 75.7 154.5 77.9 153.9C80.2 153.3 82.1 151.8 84.2 150.7C86.3 149.6 88.6 147.9 90.6 147.2C92.6 146.5 94.0 146.2 96.0 146.3C98.0 146.4 100.3 147.5 102.4 148.0C104.5 148.5 106.5 149.1 108.7 149.1C111.0 149.1 113.6 148.3 115.9 148.0C118.2 147.7 120.0 147.3 122.3 147.5C124.6 147.7 126.9 148.1 129.5 148.9C132.1 149.6 134.8 150.9 137.7 152.0C140.6 153.1 143.7 154.4 146.7 155.4C149.7 156.4 152.8 157.2 155.8 157.8C158.8 158.4 162.2 158.6 164.9 158.8C167.6 159.0 169.0 159.1 172.0 159.2C175.0 159.3 179.4 159.5 182.9 159.2C186.4 158.9 189.8 158.4 193.0 157.4C196.2 156.4 199.2 154.3 202.1 153.3C205.0 152.3 207.7 151.5 210.3 151.5C212.9 151.5 214.8 152.3 217.5 153.3C220.2 154.2 223.7 156.2 226.7 157.2C229.8 158.2 233.1 159.1 235.8 159.2C238.5 159.4 240.7 159.0 243.1 158.1C245.5 157.2 248.0 155.8 250.3 153.8C252.6 151.8 254.6 149.2 256.7 146.0C258.8 142.8 261.1 138.0 263.1 134.6C265.1 131.2 266.6 128.3 268.6 125.5C270.6 122.7 272.8 119.9 274.9 117.8C277.0 115.7 279.0 114.1 281.3 112.8C283.6 111.5 285.9 110.8 288.6 110.0C291.3 109.2 295.0 108.9 297.7 108.2C300.4 107.5 302.6 106.4 305.0 105.9C307.4 105.4 309.9 104.8 312.3 105.0C314.7 105.2 317.2 106.2 319.6 106.9C322.0 107.6 324.3 108.6 326.9 109.3C329.5 110.0 332.5 110.6 335.1 111.1C337.7 111.6 340.8 112.0 342.4 112.3C344.1 112.5 344.6 112.6 345.0 112.6L345 167L0 167Z" fill="#30271b"/><path d="M0.0 130.0C0.2 130.3 0.2 130.7 1.1 132.1C2.0 133.5 3.6 136.5 5.4 138.5C7.2 140.5 9.7 142.5 11.8 143.9C13.9 145.3 15.8 146.4 18.1 147.1C20.4 147.9 22.7 148.2 25.4 148.4C28.1 148.6 31.4 148.2 34.4 148.4C37.4 148.6 40.2 149.2 43.5 149.8C46.8 150.4 51.0 151.3 54.3 152.0C57.6 152.7 60.7 153.5 63.4 153.9C66.1 154.3 68.3 154.5 70.7 154.5C73.1 154.5 75.7 154.5 77.9 153.9C80.2 153.3 82.1 151.8 84.2 150.7C86.3 149.6 88.6 147.9 90.6 147.2C92.6 146.5 94.0 146.2 96.0 146.3C98.0 146.4 100.3 147.5 102.4 148.0C104.5 148.5 106.5 149.1 108.7 149.1C111.0 149.1 113.6 148.3 115.9 148.0C118.2 147.7 120.0 147.3 122.3 147.5C124.6 147.7 126.9 148.1 129.5 148.9C132.1 149.6 134.8 150.9 137.7 152.0C140.6 153.1 143.7 154.4 146.7 155.4C149.7 156.4 152.8 157.2 155.8 157.8C158.8 158.4 162.2 158.6 164.9 158.8C167.6 159.0 169.0 159.1 172.0 159.2C175.0 159.3 179.4 159.5 182.9 159.2C186.4 158.9 189.8 158.4 193.0 157.4C196.2 156.4 199.2 154.3 202.1 153.3C205.0 152.3 207.7 151.5 210.3 151.5C212.9 151.5 214.8 152.3 217.5 153.3C220.2 154.2 223.7 156.2 226.7 157.2C229.8 158.2 233.1 159.1 235.8 159.2C238.5 159.4 240.7 159.0 243.1 158.1C245.5 157.2 248.0 155.8 250.3 153.8C252.6 151.8 254.6 149.2 256.7 146.0C258.8 142.8 261.1 138.0 263.1 134.6C265.1 131.2 266.6 128.3 268.6 125.5C270.6 122.7 272.8 119.9 274.9 117.8C277.0 115.7 279.0 114.1 281.3 112.8C283.6 111.5 285.9 110.8 288.6 110.0C291.3 109.2 295.0 108.9 297.7 108.2C300.4 107.5 302.6 106.4 305.0 105.9C307.4 105.4 309.9 104.8 312.3 105.0C314.7 105.2 317.2 106.2 319.6 106.9C322.0 107.6 324.3 108.6 326.9 109.3C329.5 110.0 332.5 110.6 335.1 111.1C337.7 111.6 340.8 112.0 342.4 112.3C344.1 112.5 344.6 112.6 345.0 112.6" fill="none" stroke="#e58d06" stroke-width="3.4" stroke-linejoin="round" stroke-linecap="butt"/></svg></div>
<svg class="ic" style="left:1613.90px;top:545.10px;width:33.60px;height:33.60px;color:#4682b4" viewBox="0 0 24 24" fill="currentColor"><path d="M15,13V5A3,3 0 0,0 9,5V13A5,5 0 1,0 15,13M12,4A1,1 0 0,1 13,5V8H11V5A1,1 0 0,1 12,4Z"/></svg>
<div class="card gcard" style="left:971px;top:699px;width:344px;height:168px;border-radius:14.8px"><svg width="344" height="168" viewBox="0 0 344 168" style="position:absolute;left:-1px;top:-1px"><path d="M0.0 135.0C0.2 134.6 1.0 133.8 1.4 132.7C1.8 131.6 1.6 129.6 2.3 128.6C3.0 127.6 3.5 126.8 5.4 126.8C7.3 126.8 10.0 127.6 13.6 128.6C17.2 129.7 21.9 131.4 27.2 133.1C32.5 134.8 39.3 137.0 45.3 138.6C51.3 140.2 57.4 141.3 63.4 142.6C69.4 143.9 75.5 145.1 81.5 146.3C87.5 147.5 93.5 148.6 99.6 149.7C105.6 150.8 111.7 151.8 117.8 152.8C123.8 153.8 129.9 154.9 135.9 155.8C141.9 156.7 149.5 157.7 154.0 158.3C158.5 158.8 160.0 158.9 163.0 159.1C166.0 159.3 167.5 159.3 172.0 159.3C176.5 159.3 184.1 159.2 190.1 159.1C196.1 159.0 202.2 158.8 208.2 158.5C214.2 158.2 220.2 158.0 226.3 157.6C232.3 157.2 238.5 156.5 244.5 156.0C250.5 155.5 256.6 155.3 262.6 154.9C268.6 154.5 274.7 154.0 280.7 153.5C286.7 153.0 294.3 152.3 298.8 151.9C303.3 151.4 305.7 151.1 307.9 150.8C310.1 150.5 310.7 151.0 311.9 149.9C313.1 148.8 313.6 146.7 315.1 144.4C316.5 142.1 318.5 139.0 320.6 136.3C322.7 133.6 325.4 130.8 327.8 128.1C330.2 125.4 333.0 122.6 335.0 120.0C337.0 117.4 338.3 114.9 339.6 112.3C340.9 109.7 342.0 106.5 342.7 104.6C343.4 102.7 343.8 101.6 344.0 101.0L344 168L0 168Z" fill="#30271b"/><path d="M0.0 135.0C0.2 134.6 1.0 133.8 1.4 132.7C1.8 131.6 1.6 129.6 2.3 128.6C3.0 127.6 3.5 126.8 5.4 126.8C7.3 126.8 10.0 127.6 13.6 128.6C17.2 129.7 21.9 131.4 27.2 133.1C32.5 134.8 39.3 137.0 45.3 138.6C51.3 140.2 57.4 141.3 63.4 142.6C69.4 143.9 75.5 145.1 81.5 146.3C87.5 147.5 93.5 148.6 99.6 149.7C105.6 150.8 111.7 151.8 117.8 152.8C123.8 153.8 129.9 154.9 135.9 155.8C141.9 156.7 149.5 157.7 154.0 158.3C158.5 158.8 160.0 158.9 163.0 159.1C166.0 159.3 167.5 159.3 172.0 159.3C176.5 159.3 184.1 159.2 190.1 159.1C196.1 159.0 202.2 158.8 208.2 158.5C214.2 158.2 220.2 158.0 226.3 157.6C232.3 157.2 238.5 156.5 244.5 156.0C250.5 155.5 256.6 155.3 262.6 154.9C268.6 154.5 274.7 154.0 280.7 153.5C286.7 153.0 294.3 152.3 298.8 151.9C303.3 151.4 305.7 151.1 307.9 150.8C310.1 150.5 310.7 151.0 311.9 149.9C313.1 148.8 313.6 146.7 315.1 144.4C316.5 142.1 318.5 139.0 320.6 136.3C322.7 133.6 325.4 130.8 327.8 128.1C330.2 125.4 333.0 122.6 335.0 120.0C337.0 117.4 338.3 114.9 339.6 112.3C340.9 109.7 342.0 106.5 342.7 104.6C343.4 102.7 343.8 101.6 344.0 101.0" fill="none" stroke="#e58d06" stroke-width="3.4" stroke-linejoin="round" stroke-linecap="butt"/></svg></div>
<svg class="ic" style="left:1257.90px;top:724.10px;width:33.60px;height:33.60px;color:#4682b4" viewBox="0 0 24 24" fill="currentColor"><path d="M15,13V5A3,3 0 0,0 9,5V13A5,5 0 1,0 15,13M12,4A1,1 0 0,1 13,5V8H11V5A1,1 0 0,1 12,4Z"/></svg>
<div class="card gcard" style="left:1326px;top:699px;width:345px;height:168px;border-radius:14.8px"><svg width="345" height="168" viewBox="0 0 345 168" style="position:absolute;left:-1px;top:-1px"><path d="M0.0 121.8C0.2 121.7 -1.2 122.2 1.1 121.3C3.4 120.4 9.2 118.0 13.6 116.4C17.9 114.7 22.7 112.8 27.2 111.4C31.7 110.0 36.3 109.0 40.8 108.2C45.3 107.4 50.5 106.9 54.3 106.4C58.1 105.9 60.7 105.3 63.4 105.0C66.1 104.7 68.6 104.5 70.7 104.6C72.8 104.7 74.3 104.9 76.1 105.5C77.9 106.1 79.7 107.5 81.5 108.2C83.3 108.9 84.9 109.4 87.0 109.6C89.1 109.8 92.1 109.5 94.2 109.3C96.3 109.1 97.5 108.5 99.6 108.2C101.7 108.0 104.2 107.8 106.9 107.8C109.6 107.8 112.6 108.0 115.9 108.4C119.2 108.8 123.5 109.6 126.8 110.2C130.1 110.9 132.9 111.6 135.9 112.3C138.9 113.0 141.9 113.7 144.9 114.4C147.9 115.0 151.0 115.6 154.0 116.2C157.0 116.8 160.0 117.4 163.0 118.0C166.0 118.6 169.3 119.3 172.0 119.6C174.7 119.9 176.3 120.4 179.3 120.0C182.3 119.6 186.7 118.1 190.2 117.4C193.7 116.7 197.5 115.7 200.2 115.6C202.9 115.5 204.3 116.0 206.6 117.0C208.9 118.0 211.6 120.5 213.9 121.5C216.2 122.5 217.9 123.1 220.3 123.3C222.7 123.4 225.3 122.5 228.5 122.4C231.7 122.2 235.8 122.2 239.4 122.4C243.0 122.6 246.3 123.0 250.3 123.8C254.2 124.6 258.7 125.7 263.1 127.0C267.5 128.3 272.2 129.8 276.8 131.5C281.3 133.2 286.6 135.7 290.4 137.5C294.2 139.3 297.1 140.9 299.5 142.5C301.9 144.1 303.6 145.1 305.0 147.0C306.4 148.9 307.2 151.9 308.2 153.9C309.2 155.9 309.9 158.7 310.9 159.1C311.9 159.6 312.6 158.4 314.1 156.6C315.5 154.8 317.9 151.0 319.6 148.4C321.3 145.8 323.0 143.8 324.1 141.1C325.2 138.4 325.6 134.5 326.4 132.0C327.2 129.5 327.4 127.5 328.7 126.1C330.0 124.7 331.9 124.6 334.2 123.8C336.5 123.0 340.6 122.0 342.4 121.5C344.2 121.0 344.6 120.9 345.0 120.8L345 168L0 168Z" fill="#30271b"/><path d="M0.0 121.8C0.2 121.7 -1.2 122.2 1.1 121.3C3.4 120.4 9.2 118.0 13.6 116.4C17.9 114.7 22.7 112.8 27.2 111.4C31.7 110.0 36.3 109.0 40.8 108.2C45.3 107.4 50.5 106.9 54.3 106.4C58.1 105.9 60.7 105.3 63.4 105.0C66.1 104.7 68.6 104.5 70.7 104.6C72.8 104.7 74.3 104.9 76.1 105.5C77.9 106.1 79.7 107.5 81.5 108.2C83.3 108.9 84.9 109.4 87.0 109.6C89.1 109.8 92.1 109.5 94.2 109.3C96.3 109.1 97.5 108.5 99.6 108.2C101.7 108.0 104.2 107.8 106.9 107.8C109.6 107.8 112.6 108.0 115.9 108.4C119.2 108.8 123.5 109.6 126.8 110.2C130.1 110.9 132.9 111.6 135.9 112.3C138.9 113.0 141.9 113.7 144.9 114.4C147.9 115.0 151.0 115.6 154.0 116.2C157.0 116.8 160.0 117.4 163.0 118.0C166.0 118.6 169.3 119.3 172.0 119.6C174.7 119.9 176.3 120.4 179.3 120.0C182.3 119.6 186.7 118.1 190.2 117.4C193.7 116.7 197.5 115.7 200.2 115.6C202.9 115.5 204.3 116.0 206.6 117.0C208.9 118.0 211.6 120.5 213.9 121.5C216.2 122.5 217.9 123.1 220.3 123.3C222.7 123.4 225.3 122.5 228.5 122.4C231.7 122.2 235.8 122.2 239.4 122.4C243.0 122.6 246.3 123.0 250.3 123.8C254.2 124.6 258.7 125.7 263.1 127.0C267.5 128.3 272.2 129.8 276.8 131.5C281.3 133.2 286.6 135.7 290.4 137.5C294.2 139.3 297.1 140.9 299.5 142.5C301.9 144.1 303.6 145.1 305.0 147.0C306.4 148.9 307.2 151.9 308.2 153.9C309.2 155.9 309.9 158.7 310.9 159.1C311.9 159.6 312.6 158.4 314.1 156.6C315.5 154.8 317.9 151.0 319.6 148.4C321.3 145.8 323.0 143.8 324.1 141.1C325.2 138.4 325.6 134.5 326.4 132.0C327.2 129.5 327.4 127.5 328.7 126.1C330.0 124.7 331.9 124.6 334.2 123.8C336.5 123.0 340.6 122.0 342.4 121.5C344.2 121.0 344.6 120.9 345.0 120.8" fill="none" stroke="#e58d06" stroke-width="3.4" stroke-linejoin="round" stroke-linecap="butt"/></svg></div>
<svg class="ic" style="left:1613.90px;top:724.10px;width:33.60px;height:33.60px;color:#4682b4" viewBox="0 0 24 24" fill="currentColor"><path d="M15,13V5A3,3 0 0,0 9,5V13A5,5 0 1,0 15,13M12,4A1,1 0 0,1 13,5V8H11V5A1,1 0 0,1 12,4Z"/></svg>
<span class="t" id="t0" style="left:430.00px;top:106.75px;font-size:14px;font-weight:700;color:#9b9b9b;transform:scaleX(0.9417)">domOpen</span>
<span class="t" id="t1" style="left:430.44px;top:124.58px;font-size:16.8px;font-weight:700;color:#e1e1e1;transform:scaleX(0.9379)">Désactivé</span>
<span class="t" id="t2" style="left:582.00px;top:106.75px;font-size:14px;font-weight:700;color:#9b9b9b;transform:scaleX(0.9660)">Température Moyenne</span>
<span class="t" id="t3" style="left:583.02px;top:124.58px;font-size:16.8px;font-weight:700;color:#e1e1e1;transform:scaleX(0.9812)">18,7 °C</span>
<span class="t" id="t4" style="left:803.50px;top:106.75px;font-size:14px;font-weight:700;color:#9b9b9b;transform:scaleX(0.9585)">Humidité Moyenne</span>
<span class="t" id="t5" style="left:803.50px;top:124.58px;font-size:16.8px;font-weight:700;color:#e1e1e1;transform:scaleX(0.9460)">51,3 %</span>
<span class="t" id="t6" style="left:1001.00px;top:106.75px;font-size:14px;font-weight:700;color:#9b9b9b;transform:scaleX(0.9671)">Consommation</span>
<span class="t" id="t7" style="left:1002.00px;top:124.58px;font-size:16.8px;font-weight:700;color:#e1e1e1;transform:scaleX(0.9955)">1 210 VA</span>
<span class="t" id="t8" style="left:1176.00px;top:117.78px;font-size:16.8px;font-weight:700;color:#e1e1e1;transform:scaleX(0.9683)">Salon</span>
<span class="t" id="t9" style="left:1297.00px;top:117.78px;font-size:16.8px;font-weight:700;color:#e1e1e1;transform:scaleX(0.9530)">Chambre</span>
<span class="t" id="t10" style="left:1444.05px;top:117.78px;font-size:16.8px;font-weight:700;color:#e1e1e1;transform:scaleX(0.9546)">Bureau</span>
<span class="t" id="t11" style="left:302.88px;top:260.32px;font-size:62px;font-weight:700;color:#e1e1e1;transform:scaleX(0.9839);-webkit-text-stroke:1.3px #1c1c1c">15:50</span>
<span class="t" id="t12" style="left:466.00px;top:265.87px;font-size:22.6px;font-weight:700;color:#6b6b6b;transform:scaleX(0.9770);-webkit-text-stroke:0.3px #1c1c1c">08</span>
<span class="t" id="t13" style="left:694.59px;top:253.17px;font-size:33px;font-weight:400;color:#e1e1e1;transform:scaleX(1.0065)">Éclaircies</span>
<span class="t" id="t14" style="left:695.16px;top:292.81px;font-size:34.6px;font-weight:400;color:#e1e1e1;transform:scaleX(0.9225)">10,3</span>
<span class="t" id="t15" style="left:765.26px;top:294.80px;font-size:20.2px;font-weight:400;color:#e1e1e1;transform:scaleX(1.0440)">°C</span>
<span class="t" id="t16" style="left:307.25px;top:537.21px;font-size:19.6px;font-weight:700;color:#e1e1e1;transform:scaleX(0.9543)">Alarme</span>
<span class="t" id="t17" style="left:546.03px;top:537.21px;font-size:19.6px;font-weight:700;color:#e1e1e1;transform:scaleX(0.9743)">Portail</span>
<span class="t" id="t18" style="left:800.85px;top:537.21px;font-size:19.6px;font-weight:700;color:#e1e1e1;transform:scaleX(0.9732)">TV</span>
<span class="t" id="t19" style="left:280.35px;top:761.21px;font-size:19.6px;font-weight:700;color:#e1e1e1;transform:scaleX(0.9494)">Climat</span>
<span class="t" id="t20" style="left:447.55px;top:761.21px;font-size:19.6px;font-weight:700;color:#e1e1e1;transform:scaleX(0.9519)">Caméras</span>
<span class="t" id="t21" style="left:624.70px;top:761.21px;font-size:19.6px;font-weight:700;color:#e1e1e1;transform:scaleX(0.9243)">Ouvrants</span>
<span class="t" id="t22" style="left:800.60px;top:761.21px;font-size:19.6px;font-weight:700;color:#e1e1e1;transform:scaleX(0.9499)">Lumières</span>
<span class="t" id="t23" style="left:259.68px;top:940.21px;font-size:19.6px;font-weight:700;color:#e1e1e1;transform:scaleX(0.9694)">Multimédia</span>
<span class="t" id="t24" style="left:452.86px;top:940.21px;font-size:19.6px;font-weight:700;color:#e1e1e1;transform:scaleX(0.9356)">Énergie</span>
<span class="t" id="t25" style="left:602.90px;top:940.21px;font-size:19.6px;font-weight:700;color:#e1e1e1;transform:scaleX(0.9607)">Températures</span>
<span class="t" id="t26" style="left:263.13px;top:1164.21px;font-size:19.6px;font-weight:700;color:#e1e1e1;transform:scaleX(0.9749)">Mode Nuit</span>
<span class="t" id="t27" style="left:460.78px;top:1164.21px;font-size:19.6px;font-weight:700;color:#e1e1e1;transform:scaleX(1.0247)">Matin</span>
<span class="t" id="t28" style="left:633.05px;top:1164.21px;font-size:19.6px;font-weight:700;color:#e1e1e1;transform:scaleX(0.9405)">Absent</span>
<span class="t" id="t29" style="left:808.24px;top:1164.21px;font-size:19.6px;font-weight:700;color:#e1e1e1;transform:scaleX(0.9614)">Présent</span>
<span class="t" id="t30" style="left:1048.50px;top:235.61px;font-size:19.6px;font-weight:700;color:#e1e1e1;transform:scaleX(0.9603)">Salon</span>
<span class="t" id="t31" style="left:1403.50px;top:235.61px;font-size:19.6px;font-weight:700;color:#e1e1e1;transform:scaleX(0.9444)">Chambre</span>
<span class="t" id="t32" style="left:1047.53px;top:325.81px;font-size:19.6px;font-weight:700;color:#e1e1e1;transform:scaleX(0.9674)">Bureau</span>
<span class="t" id="t33" style="left:1403.50px;top:325.81px;font-size:19.6px;font-weight:700;color:#e1e1e1;transform:scaleX(0.9298)">Cuisine</span>
<span class="t" id="t34" style="left:1048.50px;top:414.61px;font-size:19.6px;font-weight:700;color:#e1e1e1;transform:scaleX(0.9578)">Salle de bain</span>
<span class="t" id="t35" style="left:994.60px;top:548.75px;font-size:21.2px;font-weight:700;color:#9c9c9c;transform:scaleX(0.9763)">Salon</span>
<span class="t" id="t36" style="left:994.05px;top:584.63px;font-size:40.6px;font-weight:400;color:#e1e1e1;transform:scaleX(0.9515)">19,2</span>
<span class="t" id="t37" style="left:1078.37px;top:601.05px;font-size:21.2px;font-weight:400;color:#9c9c9c;transform:scaleX(0.9345)">°C</span>
<span class="t" id="t38" style="left:1349.60px;top:548.75px;font-size:21.2px;font-weight:700;color:#9c9c9c;transform:scaleX(0.9842)">Chambre</span>
<span class="t" id="t39" style="left:1348.61px;top:584.63px;font-size:40.6px;font-weight:400;color:#e1e1e1;transform:scaleX(0.9455)">20,2</span>
<span class="t" id="t40" style="left:1433.37px;top:601.05px;font-size:21.2px;font-weight:400;color:#9c9c9c;transform:scaleX(0.9345)">°C</span>
<span class="t" id="t41" style="left:993.61px;top:727.75px;font-size:21.2px;font-weight:700;color:#9c9c9c;transform:scaleX(0.9866)">Bureau</span>
<span class="t" id="t42" style="left:993.15px;top:763.63px;font-size:40.6px;font-weight:400;color:#e1e1e1;transform:scaleX(0.9515)">15,9</span>
<span class="t" id="t43" style="left:1078.37px;top:780.05px;font-size:21.2px;font-weight:400;color:#9c9c9c;transform:scaleX(0.9345)">°C</span>
<span class="t" id="t44" style="left:1349.60px;top:727.75px;font-size:21.2px;font-weight:700;color:#9c9c9c;transform:scaleX(0.9591)">Cuisine</span>
<span class="t" id="t45" style="left:1350.05px;top:763.63px;font-size:40.6px;font-weight:400;color:#e1e1e1;transform:scaleX(0.9515)">19,0</span>
<span class="t" id="t46" style="left:1433.37px;top:780.05px;font-size:21.2px;font-weight:400;color:#9c9c9c;transform:scaleX(0.9345)">°C</span>
<div class="mk" style="left:306px;top:305px;width:12px;height:8px"></div>
<div class="mk" style="left:325px;top:305px;width:11px;height:8px"></div>
<div class="mk" style="left:696px;top:318px;width:6px;height:5px"></div>
<div class="mk" style="left:707px;top:318px;width:5px;height:5px"></div>
<div class="mk" style="left:995px;top:615px;width:8px;height:5px"></div>
<div class="mk" style="left:1007px;top:615px;width:7px;height:5px"></div>
<div class="mk" style="left:994px;top:794px;width:8px;height:5px"></div>
<div class="mk" style="left:1006px;top:794px;width:7px;height:5px"></div>
<div class="mk" style="left:1351px;top:794px;width:8px;height:5px"></div>
<div class="mk" style="left:1363px;top:794px;width:7px;height:5px"></div>
</body></html>
